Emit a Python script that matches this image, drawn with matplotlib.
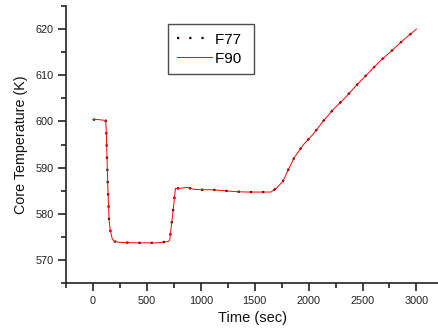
import matplotlib
matplotlib.use("Agg")
import matplotlib.pyplot as plt
from matplotlib.ticker import MultipleLocator

plt.rcParams['font.family'] = ['Liberation Sans', 'DejaVu Sans']

time_s = [0, 50, 118, 124, 139, 150, 160, 180, 200, 250, 400, 600, 700, 712, 740, 765,
          800, 873, 934, 1000, 1104, 1212, 1320, 1428, 1550, 1650, 1700, 1761, 1813,
          1866, 1946, 2044, 2137, 2229, 2338, 2439, 2547, 2655, 2770, 2877, 3000]
temp_f77 = [600.4, 600.4, 600.2, 597.5, 585.0, 578.5, 576.5, 574.5, 574.0, 573.8, 573.7,
            573.7, 574.0, 574.3, 580.0, 585.5, 585.5, 585.7, 585.3, 585.2, 585.2, 585.0,
            584.8, 584.7, 584.7, 584.7, 585.5, 587.0, 589.6, 592.1, 594.8, 597.3, 600.1,
            602.6, 605.1, 607.7, 610.3, 612.9, 615.3, 617.6, 620.0]
temp_f90 = list(temp_f77)

W, H = 438, 334
fig = plt.figure(figsize=(W/100, H/100), dpi=100)
ax = fig.add_axes([66/W, 1-283/H, (W-66)/W, (283-6)/H])

ax.plot(time_s, temp_f77, color='#1a0000', linestyle=(0, (1, 4.5)), linewidth=1.6, label='F77 ')
ax.plot(time_s, temp_f90, color='red', linestyle='-', linewidth=0.7, label='F90 ')

ax.set_xlim(-250, 3200)
ax.set_ylim(565, 625)
ax.xaxis.set_major_locator(MultipleLocator(500))
ax.xaxis.set_minor_locator(MultipleLocator(250))
ax.yaxis.set_major_locator(MultipleLocator(10))
ax.yaxis.set_minor_locator(MultipleLocator(5))
for s in ['top', 'right']:
    ax.spines[s].set_visible(False)
for s in ['left', 'bottom']:
    ax.spines[s].set_linewidth(1.2)
    ax.spines[s].set_color('#222222')
ax.tick_params(which='major', direction='out', length=6, width=1.2, labelsize=7.8,
               color='#222222', labelcolor='#222222', pad=3)
ax.tick_params(which='minor', direction='out', length=3.5, width=1.2, color='#222222')

ax.set_xlabel('Time (sec)', fontsize=10.5, labelpad=4, color='#111111')
ax.set_ylabel('Core Temperature (K)', fontsize=10.3, labelpad=5, color='#111111')

ax_w, ax_h = W - 66, 283 - 6
leg = ax.legend(loc='upper left', bbox_to_anchor=((168.3-66)/ax_w, 1-(24.3-6)/ax_h),
                borderaxespad=0, fontsize=11, frameon=True, fancybox=False,
                edgecolor='#222222', handlelength=2.3, borderpad=0.55,
                labelspacing=0.33, handletextpad=0.2)
leg.get_frame().set_linewidth(1.0)

fig.savefig('out.png', dpi=100)
